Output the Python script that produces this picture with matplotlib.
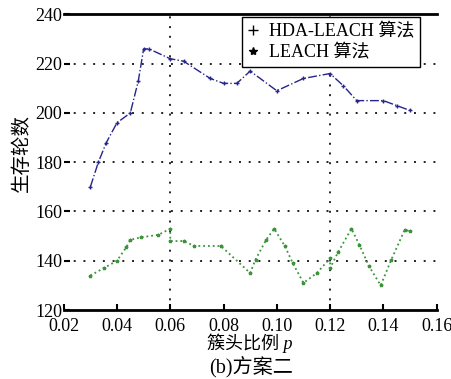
import matplotlib
matplotlib.use("Agg")
import matplotlib.pyplot as plt
from matplotlib.lines import Line2D

plt.rcParams['font.family'] = ['Liberation Serif', 'Noto Sans CJK SC']

# HDA-LEACH 算法
hda_p = [0.030, 0.033, 0.036, 0.040, 0.045, 0.048, 0.050, 0.052, 0.060, 0.065,
         0.075, 0.080, 0.085, 0.090, 0.100, 0.110, 0.120, 0.125, 0.130, 0.140,
         0.145, 0.150]
hda_r = [170, 180, 188, 196, 200, 213, 226, 226, 222, 221,
         214, 212, 212, 217, 209, 214, 216, 211, 205, 205,
         203, 201]

# LEACH 算法
leach_p = [0.030, 0.035, 0.040, 0.0435, 0.045, 0.049, 0.0555, 0.060, 0.060, 0.065,
           0.069, 0.079, 0.090, 0.092, 0.096, 0.099, 0.103, 0.106, 0.110, 0.115,
           0.120, 0.120, 0.123, 0.128, 0.131, 0.1345, 0.139, 0.143, 0.148, 0.150]
leach_r = [134, 137, 140, 145.5, 148.5, 149.5, 150.5, 153, 148, 148,
           146, 146, 135, 140.5, 148.5, 153, 146, 139, 131, 135,
           141, 137, 143.5, 153, 146.5, 138, 130, 140.5, 152.5, 152]

xticks = [0.02, 0.04, 0.06, 0.08, 0.10, 0.12, 0.14, 0.16]
yticks = [120, 140, 160, 180, 200, 220, 240]

fig = plt.figure(figsize=(4.52, 3.79), dpi=100)
ax = fig.add_axes([0.141, 0.182, 0.825, 0.78])

ax.plot(hda_p, hda_r, linestyle='-.', color='#25258a', linewidth=1.0,
        marker='+', markersize=3.5, markeredgewidth=1.0)
ax.plot(leach_p, leach_r, linestyle=':', color='#3c933c', linewidth=1.3,
        marker='*', markersize=2.5)

for y in [140, 160, 180, 200, 220]:
    ax.axhline(y, color='#222222', linestyle=(0, (1, 4)), linewidth=1.4, zorder=0)
for x in [0.06, 0.12]:
    ax.axvline(x, color='#222222', linestyle=(0, (1, 4)), linewidth=1.4, zorder=0)

ax.set_xlim(0.02, 0.16)
ax.set_ylim(120, 240)
ax.set_xticks(xticks)
ax.set_xticklabels([f"{v:.2f}" for v in xticks])
ax.set_yticks(yticks)
ax.tick_params(axis='both', direction='in', labelsize=13, length=4, width=1.5)
ax.tick_params(axis='x', pad=6)
ax.tick_params(axis='y', pad=1)

for s in ['left', 'right']:
    ax.spines[s].set_visible(False)
for s in ['top', 'bottom']:
    ax.spines[s].set_linewidth(2.0)

ax.set_ylabel("生存轮数", fontsize=14)
ax.yaxis.set_label_coords(-0.088, 0.53)
ax.set_xlabel("簇头比例 p", fontsize=13, fontstyle='italic', labelpad=-1)
fig.text(0.555, 0.005, "(b)方案二", fontsize=14.5, ha='center', va='bottom')

handles = [Line2D([], [], color='k', marker='+', linestyle='none', markersize=7),
           Line2D([], [], color='k', marker='*', linestyle='none', markersize=6)]
leg = ax.legend(handles, ["HDA-LEACH 算法", "LEACH 算法"], loc='upper right',
                bbox_to_anchor=(0.955, 0.99), fontsize=13, frameon=True,
                fancybox=False, handlelength=0.6, handletextpad=0.6,
                borderpad=0.3, labelspacing=0.25, borderaxespad=0)
leg.get_frame().set_edgecolor('black')
leg.get_frame().set_linewidth(1.0)
leg.get_frame().set_alpha(1)

fig.savefig("out.png", dpi=100)
